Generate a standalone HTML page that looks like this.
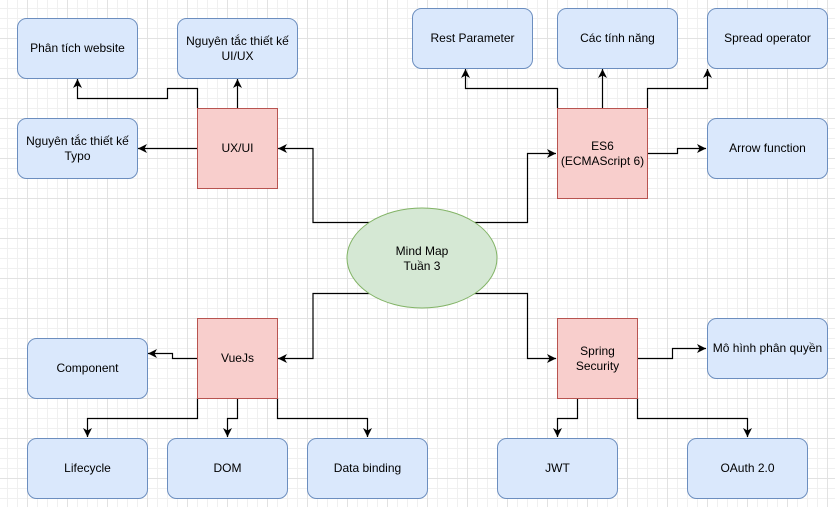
<!DOCTYPE html>
<html><head><meta charset="utf-8"><style>
html,body{margin:0;padding:0;background:#fff;}
svg{display:block;font-family:"Liberation Sans",Arial,sans-serif;}
</style></head><body>
<svg width="835" height="507" viewBox="0 0 835 507" xmlns="http://www.w3.org/2000/svg">
<defs>
<pattern id="g" x="7" y="8" width="10" height="10" patternUnits="userSpaceOnUse">
<path d="M0 0.5H10M0.5 0V10" stroke="#f0f0f0" stroke-width="1" fill="none"/>
</pattern>
<pattern id="G" x="27" y="38" width="40" height="40" patternUnits="userSpaceOnUse">
<path d="M0 0.5H40M0.5 0V40" stroke="#e2e2e2" stroke-width="1" fill="none"/>
</pattern>
<marker id="a" markerWidth="10" markerHeight="10" refX="9" refY="5" orient="auto" markerUnits="userSpaceOnUse">
<path d="M0 0.5L9 5L0 9.5L2.5 5Z" fill="#000"/>
</marker>
</defs>
<rect width="835" height="507" fill="#fff"/>
<rect width="835" height="507" fill="url(#g)"/>
<rect width="835" height="507" fill="url(#G)"/>

<g fill="none" stroke="#000" stroke-width="1.2" marker-end="url(#a)">
<!-- UX/UI -->
<path d="M197.5 108V88.5H167.5V98.5H77.5V79"/>
<path d="M237.5 108V79"/>
<path d="M197 148.5H138"/>
<path d="M422 222.5H313V148.5H278"/>
<!-- ES6 -->
<path d="M422 222.5H527.5V153.5H556"/>
<path d="M557.5 108V88.5H465.5V69"/>
<path d="M602.5 108V79V69"/>
<path d="M647.5 108V88.5H707.5V69"/>
<path d="M647 153.5H677.5V148.5H706"/>
<!-- VueJs -->
<path d="M422 293.5H313V358.5H278"/>
<path d="M197 358.5H172.5V353.5H148"/>
<path d="M197.5 398V418.5H87.5V437"/>
<path d="M237.5 398V418.5H227.5V437"/>
<path d="M277.5 398V418.5H367.5V437"/>
<!-- Spring -->
<path d="M422 293.5H527.5V358.5H556"/>
<path d="M637 358.5H672.5V348.5H706"/>
<path d="M577.5 398V418.5H557.5V437"/>
<path d="M637.5 398V418.5H747.5V437"/>
</g>

<ellipse cx="422" cy="258" rx="75" ry="50" fill="#d5e8d4" stroke="#82b366" stroke-width="1"/>

<g fill="#f8cecc" stroke="#b85450" stroke-width="1">
<rect x="197.5" y="108.5" width="80" height="80"/>
<rect x="557.5" y="108.5" width="90" height="90"/>
<rect x="197.5" y="318.5" width="80" height="80"/>
<rect x="557.5" y="318.5" width="80" height="80"/>
</g>

<g fill="#dae8fc" stroke="#6c8ebf" stroke-width="1">
<rect x="17.5" y="18.5" width="120" height="60" rx="9"/>
<rect x="177.5" y="18.5" width="120" height="60" rx="9"/>
<rect x="17.5" y="118.5" width="120" height="60" rx="9"/>
<rect x="412.5" y="8.5" width="120" height="60" rx="9"/>
<rect x="557.5" y="8.5" width="120" height="60" rx="9"/>
<rect x="707.5" y="8.5" width="120" height="60" rx="9"/>
<rect x="707.5" y="118.5" width="120" height="60" rx="9"/>
<rect x="27.5" y="338.5" width="120" height="60" rx="9"/>
<rect x="27.5" y="438.5" width="120" height="60" rx="9"/>
<rect x="167.5" y="438.5" width="120" height="60" rx="9"/>
<rect x="307.5" y="438.5" width="120" height="60" rx="9"/>
<rect x="707.5" y="318.5" width="120" height="60" rx="9"/>
<rect x="497.5" y="438.5" width="120" height="60" rx="9"/>
<rect x="687.5" y="438.5" width="120" height="60" rx="9"/>
</g>

<g font-size="12" fill="#000" text-anchor="middle">
<text x="77.5" y="52">Phân tích website</text>
<text x="237.5" y="45">Nguyên tắc thiết kế</text>
<text x="237.5" y="60">UI/UX</text>
<text x="77.5" y="145">Nguyên tắc thiết kế</text>
<text x="77.5" y="160">Typo</text>
<text x="237.5" y="152">UX/UI</text>
<text x="472.5" y="42">Rest Parameter</text>
<text x="617.5" y="42">Các tính năng</text>
<text x="767.5" y="42">Spread operator</text>
<text x="767.5" y="152">Arrow function</text>
<text x="602.5" y="150">ES6</text>
<text x="602.5" y="165">(ECMAScript 6)</text>
<text x="422" y="255">Mind Map</text>
<text x="422" y="270">Tuần 3</text>
<text x="237.5" y="362">VueJs</text>
<text x="87.5" y="372">Component</text>
<text x="87.5" y="472">Lifecycle</text>
<text x="227.5" y="472">DOM</text>
<text x="367.5" y="472">Data binding</text>
<text x="597.5" y="355">Spring</text>
<text x="597.5" y="370">Security</text>
<text x="767.5" y="352">Mô hình phân quyền</text>
<text x="557.5" y="472">JWT</text>
<text x="747.5" y="472">OAuth 2.0</text>
</g>
</svg>
</body></html>
